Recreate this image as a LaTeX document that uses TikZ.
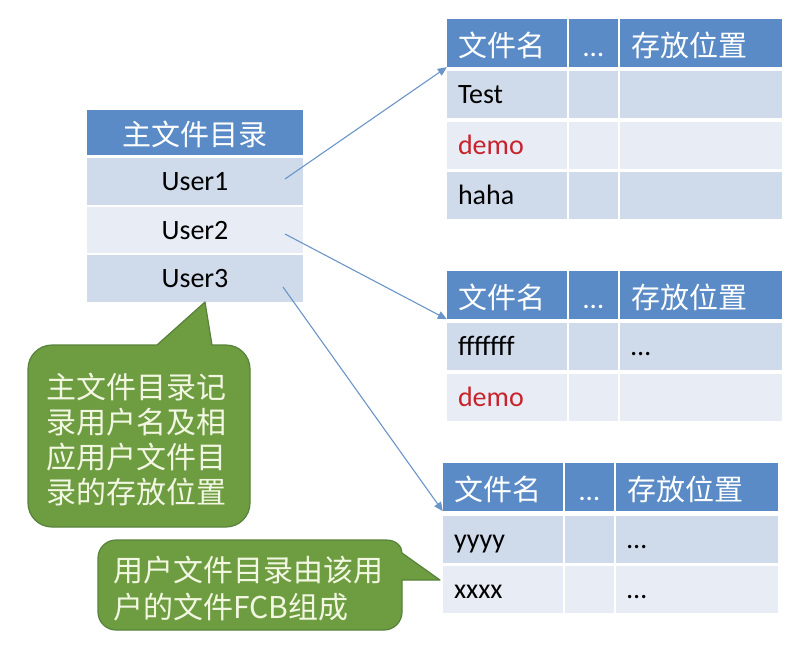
\documentclass[tikz,border=0pt]{standalone}
\usepackage{fontspec}
\setmainfont{Carlito}
\newfontfamily\latin{Carlito}
\newfontfamily\cjk{Noto Sans CJK SC}
\usetikzlibrary{arrows.meta}
\definecolor{headblue}{HTML}{5A8BC6}
\definecolor{rowdark}{HTML}{CFDAEA}
\definecolor{rowlight}{HTML}{E7ECF5}
\definecolor{notegreen}{HTML}{6E9C41}
\definecolor{noteedge}{HTML}{57823A}
\definecolor{notetext}{HTML}{F2F7E2}
\definecolor{linkblue}{HTML}{6A95C8}
\definecolor{demored}{HTML}{C8232C}
\begin{document}
\begin{tikzpicture}[x=1pt, y=-1pt,
    cell/.style={inner xsep=11pt, inner ysep=0pt, minimum height=47pt,
        text height=18pt, text depth=0pt, font=\fontsize{28}{34}\selectfont},
    hdr/.style={cell, fill=headblue, text=white, minimum height=48pt,
        text height=26pt, font=\cjk\fontsize{29}{34}\selectfont},
    dark/.style={cell, fill=rowdark},
    light/.style={cell, fill=rowlight},
    colname/.style={text width=98pt, align=left},
    coldots/.style={text width=27pt, align=center},
    colpos/.style={text width=140pt, align=left},
    note/.style={text=notetext, align=left, inner sep=0pt},
    bubble/.style={fill=notegreen, draw=noteedge, line width=1.2pt, line join=round},
    link/.style={draw=linkblue, line width=1.1pt, -{Triangle[length=9pt, width=8pt]}}
]
    \useasboundingbox (0,0) rectangle (811,648);

    % 主文件目录
    \node[hdr, minimum width=216pt, minimum height=45pt] (mfd) at (195,132.5) {主文件目录};
    \node[dark, minimum width=216pt] (user1) at (195,181.5) {User1};
    \node[light, minimum width=216pt, minimum height=46pt] (user2) at (195,230) {User2};
    \node[dark, minimum width=216pt] (user3) at (195,278.5) {User3};

    % 用户文件目录 1
    \begin{scope}[shift={(0,19)}]
        \node[hdr, colname] (a-h1) at (507,24) {文件名};
        \node[hdr, coldots] (a-h2) at (593.5,24) {\latin …};
        \node[hdr, colpos] (a-h3) at (701,24) {存放位置};
        \node[dark, colname] (a-11) at (507,75.5) {Test};
        \node[dark, coldots] (a-12) at (593.5,75.5) {};
        \node[dark, colpos] (a-13) at (701,75.5) {};
        \node[light, colname, text=demored] (a-21) at (507,126) {demo};
        \node[light, coldots] (a-22) at (593.5,126) {};
        \node[light, colpos] (a-23) at (701,126) {};
        \node[dark, colname] (a-31) at (507,176.5) {haha};
        \node[dark, coldots] (a-32) at (593.5,176.5) {};
        \node[dark, colpos] (a-33) at (701,176.5) {};
    \end{scope}

    % 用户文件目录 2
    \begin{scope}[shift={(0,271)}]
        \node[hdr, colname] (b-h1) at (507,24) {文件名};
        \node[hdr, coldots] (b-h2) at (593.5,24) {\latin …};
        \node[hdr, colpos] (b-h3) at (701,24) {存放位置};
        \node[dark, colname] (b-11) at (507,75.5) {fffffff};
        \node[dark, coldots] (b-12) at (593.5,75.5) {};
        \node[dark, colpos] (b-13) at (701,75.5) {…};
        \node[light, colname, text=demored] (b-21) at (507,126) {demo};
        \node[light, coldots] (b-22) at (593.5,126) {};
        \node[light, colpos] (b-23) at (701,126) {};
    \end{scope}

    % 用户文件目录 3
    \begin{scope}[shift={(-4,463)}]
        \node[hdr, colname] (c-h1) at (507,24) {文件名};
        \node[hdr, coldots] (c-h2) at (593.5,24) {\latin …};
        \node[hdr, colpos] (c-h3) at (701,24) {存放位置};
        \node[dark, colname] (c-11) at (507,76) {yyyy};
        \node[dark, coldots] (c-12) at (593.5,76) {};
        \node[dark, colpos] (c-13) at (701,76) {…};
        \node[light, colname] (c-21) at (507,126) {xxxx};
        \node[light, coldots] (c-22) at (593.5,126) {};
        \node[light, colpos] (c-23) at (701,126) {…};
    \end{scope}

    % 指针
    \coordinate (from1) at (285,179);
    \coordinate (from2) at (285,234);
    \coordinate (from3) at (283,287);
    \draw[link] (from1) -- (a-h1.south west);
    \draw[link] (from2) -- (b-h1.south west);
    \draw[link] (from3) -- (c-h1.south west);

    % 说明框
    \draw[bubble] (100,345) -- (157,345) -- (205,302) -- (212,345) -- (213,345)
        [rounded corners=24pt] -- (250,345) -- (250,527) -- (28,527) -- (28,345) -- cycle;
    \node[note, font=\cjk\fontsize{30}{35}\selectfont] (note1) at (136.5,439.5)
        {主文件目录记\\录用户名及相\\应用户文件目\\录的存放位置};

    \draw[bubble] (250,540) -- (386,540) .. controls (396,540) and (402,546) .. (402,553)
        -- (440,580) -- (402,580) -- (402,581)
        [rounded corners=18pt] -- (402,630) -- (98,630) -- (98,540) -- cycle;
    \node[note, font=\cjk\fontsize{30}{37}\selectfont] (note2) at (248.5,588.5)
        {用户文件目录由该用\\户的文件FCB组成};
\end{tikzpicture}
\end{document}
